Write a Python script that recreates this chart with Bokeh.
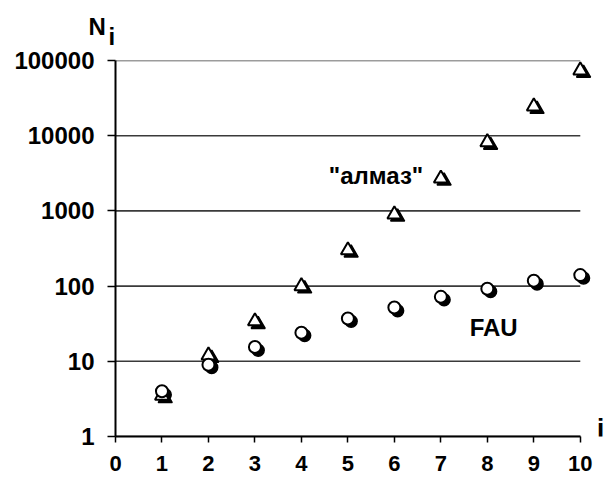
from bokeh.plotting import figure
from bokeh.models import FixedTicker, Label, Range1d
from bokeh.transform import dodge
from bokeh.embed import file_html
from bokeh.resources import INLINE

# shell index
shells = [1, 2, 3, 4, 5, 6, 7, 8, 9, 10]

# number of atoms N_i in shell i, diamond ("алмаз") lattice
almaz_open = [3.5, 12, 34, 100, 300, 900, 2700, 8200, 24500, 74000]
almaz_filled = [3.2, 11, 31, 92, 275, 830, 2500, 7500, 22500, 68000]

# number of atoms N_i in shell i, FAU framework
fau_open = [4.0, 9.0, 15.5, 24, 37, 52, 72, 92, 118, 140]
fau_filled = [3.6, 8.3, 14, 22, 34, 47, 66, 85, 107, 128]

x_ticks = [0, 1, 2, 3, 4, 5, 6, 7, 8, 9, 10]
y_ticks = [1, 10, 100, 1000, 10000, 100000]
y_tick_labels = ["1", "10", "100", "1000", "10000", "100000"]

FONT = "Liberation Sans"
INK = "#000000"
NBSP = "\u00a0"

p = figure(
    width=612, height=483,
    y_axis_type="log",
    x_range=Range1d(0, 10.65),
    y_range=Range1d(1, 100000),
    output_backend="svg",
    toolbar_location=None,
    min_border_left=115, min_border_right=2,
    min_border_top=60, min_border_bottom=47,
)
p.outline_line_color = None
p.background_fill_color = "white"
p.border_fill_color = "white"
p.xgrid.visible = False
p.ygrid.visible = False

# y-axis title N_i above the axis, subscript on its own lowered line
p.title.text = "N\n" + NBSP * 3 + "i"
p.title.align = "left"
p.title.offset = -27
p.title.standoff = 20
p.title.text_font = FONT
p.title.text_font_style = "bold"
p.title.text_font_size = "24px"
p.title.text_color = INK
p.title.text_line_height = 0.4

# horizontal decade lines across the tick span
p.segment(x0=x_ticks[0], x1=x_ticks[-1], y0=y_ticks, y1=y_ticks,
          line_color="#3a3a3a", line_width=1.6)

src = dict(x=shells, ao=almaz_open, af=almaz_filled, fo=fau_open, ff=fau_filled)
shift = dodge("x", 0.07, range=p.x_range)

p.scatter(x=shift, y="af", source=src, marker="triangle", size=14,
          fill_color=INK, line_color=INK, line_width=1.5)
p.scatter(x=shift, y="ff", source=src, marker="circle", size=12,
          fill_color=INK, line_color=INK, line_width=1.5)
p.scatter(x="x", y="ao", source=src, marker="triangle", size=14,
          fill_color="white", line_color=INK, line_width=2)
p.scatter(x="x", y="fo", source=src, marker="circle", size=12,
          fill_color="white", line_color=INK, line_width=2)

# axes
xa = p.xaxis[0]
xa.ticker = FixedTicker(ticks=x_ticks)
xa.bounds = (x_ticks[0], x_ticks[-1])
ya = p.yaxis[0]
ya.ticker = FixedTicker(ticks=y_ticks)
ya.major_label_overrides = {t: s for t, s in zip(y_ticks, y_tick_labels)}

for ax, tick_out, standoff, fsize in ((xa, 6, 13, "22px"), (ya, 8, 13, "24px")):
    ax.axis_line_color = INK
    ax.axis_line_width = 2
    ax.major_tick_line_color = INK
    ax.major_tick_line_width = 1.5
    ax.major_tick_in = 0
    ax.major_tick_out = tick_out
    ax.minor_tick_line_color = None
    ax.major_label_standoff = standoff
    ax.major_label_text_font = FONT
    ax.major_label_text_font_style = "bold"
    ax.major_label_text_font_size = fsize
    ax.major_label_text_color = INK

# x-axis title at the right end of the axis
p.add_layout(Label(x=10.36, y=1.28, text="i", text_font=FONT,
                   text_font_style="bold", text_font_size="26px",
                   text_color=INK, text_baseline="middle"))

# series names
p.add_layout(Label(x=6.62, y=2950, text='"алмаз"', text_font=FONT,
                   text_font_style="bold", text_font_size="24px",
                   text_color=INK, text_align="right", text_baseline="middle"))
p.add_layout(Label(x=7.62, y=28, text="FAU", text_font=FONT,
                   text_font_style="bold", text_font_size="24px",
                   text_color=INK, text_align="left", text_baseline="middle"))

open("out.html", "w").write(file_html(p, INLINE))
